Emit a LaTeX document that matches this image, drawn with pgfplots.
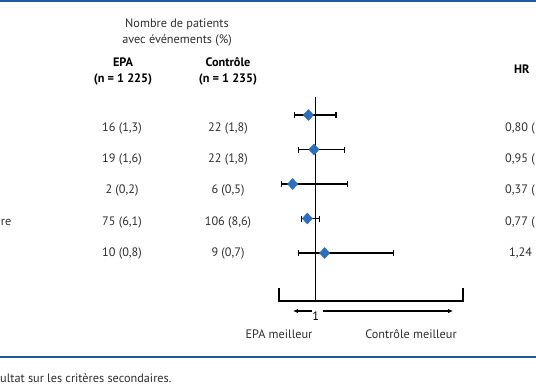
\documentclass[border=0pt]{standalone}
\usepackage{fontspec}
\setmainfont{PT Sans}
\usepackage{pgfplots}
\usepackage{pgfplotstable}
\pgfplotsset{compat=1.18}
\usetikzlibrary{arrows.meta}
\definecolor{blueline}{HTML}{2458A0}
\definecolor{diam}{HTML}{2E6FBD}
\definecolor{txt}{HTML}{2E2E2E}

% row, hazard ratio, CI lower / upper distance
\pgfplotstableread{
row hr em ep
1 0.80 0.37 0.75
2 0.95 0.41 0.84
3 0.37 0.29 1.48
4 0.77 0.17 0.34
5 1.24 0.70 1.86
}\forestdata

\newcommand{\fs}{\fontsize{12.3}{14}\selectfont}
\begin{document}
\begin{tikzpicture}[font=\fs, every node/.style={inner sep=0pt, text=txt}]
\useasboundingbox (0,0) rectangle (536bp,386bp);
\clip (0,0) rectangle (536bp,386bp);
% layout canvas in pixel units
\begin{axis}[at={(0,0)}, anchor=south west, scale only axis, width=536bp, height=386bp,
  xmin=0, xmax=536, ymin=0, ymax=386, y dir=reverse, hide axis, clip=false]
\draw[blueline, line width=2.2bp] (axis cs:0,1) -- (axis cs:536,1);
\draw[blueline, line width=1.5bp] (axis cs:0,357) -- (axis cs:536,357);
\node at (axis cs:177,24) {Nombre de patients};
\node at (axis cs:177,40) {avec événements (\%)};
\node[font=\fs\bfseries, text=black] at (axis cs:123,62) {EPA};
\node[font=\fs\bfseries, text=black] at (axis cs:123,79) {(n = 1 225)};
\node[font=\fs\bfseries, text=black] at (axis cs:228,62) {Contrôle};
\node[font=\fs\bfseries, text=black] at (axis cs:228,79) {(n = 1 235)};
\node[font=\fs\bfseries, text=black, anchor=west] at (axis cs:514,69) {HR};
% EPA column
\node at (axis cs:122,128) {16 (1,3)};
\node at (axis cs:122,159) {19 (1,6)};
\node at (axis cs:122,190) {2 (0,2)};
\node at (axis cs:122,222) {75 (6,1)};
\node at (axis cs:122,253) {10 (0,8)};
% Controle column
\node at (axis cs:228,128) {22 (1,8)};
\node at (axis cs:228,159) {22 (1,8)};
\node at (axis cs:228,190) {6 (0,5)};
\node at (axis cs:228,222) {106 (8,6)};
\node at (axis cs:228,253) {9 (0,7)};
% HR column
\node[anchor=west] at (axis cs:505,128) {0,80 (};
\node[anchor=west] at (axis cs:505,159) {0,95 (};
\node[anchor=west] at (axis cs:505,190) {0,37 (};
\node[anchor=west] at (axis cs:505,222) {0,77 (};
\node[anchor=west] at (axis cs:509,253) {1,24};
% cut row label
\node[anchor=east] at (axis cs:11.5,222) {re};
% bottom labels
\node at (axis cs:279,334) {EPA meilleur};
\node at (axis cs:411,334) {Contrôle meilleur};
\node[anchor=west] at (axis cs:0,378) {ultat sur les critères secondaires.};
\end{axis}
% forest plot
\begin{axis}[at={(279bp,85bp)}, anchor=south west, scale only axis, width=184bp, height=204bp,
  xmin=0, xmax=5, ymin=0.478, ymax=6.391, y dir=reverse, axis lines=none, clip=false]
\draw[line width=1.1bp] (axis cs:1,0.478) -- (axis cs:1,6.391);
\draw[line width=1.1bp] (axis cs:0,6.391) ++(0,-3.5bp) -- (axis cs:0,6.391) -- (axis cs:5,6.391) -- ++(0,-3.5bp);
\draw[line width=1.1bp, -{Latex[length=5bp,width=4.5bp]}] (axis cs:0.90,6.681) -- (axis cs:0.38,6.681);
\draw[line width=1.1bp, -{Latex[length=5bp,width=4.5bp]}] (axis cs:1.20,6.681) -- (axis cs:4.73,6.681);
\node[text=black] at (axis cs:1,6.826) {1};
\addplot[only marks, mark=none, black,
  error bars/.cd, x dir=both, x explicit, error mark=|,
  error bar style={line width=1.1bp, black},
  error mark options={line width=1.1bp, mark size=3bp, black}]
  table[x=hr, y=row, x error minus=em, x error plus=ep] {\forestdata};
\addplot[only marks, mark=diamond*, mark size=5.5bp, mark options={fill=diam, draw=diam, xscale=1.25}]
  table[x=hr, y=row] {\forestdata};
\end{axis}
\end{tikzpicture}
\end{document}
